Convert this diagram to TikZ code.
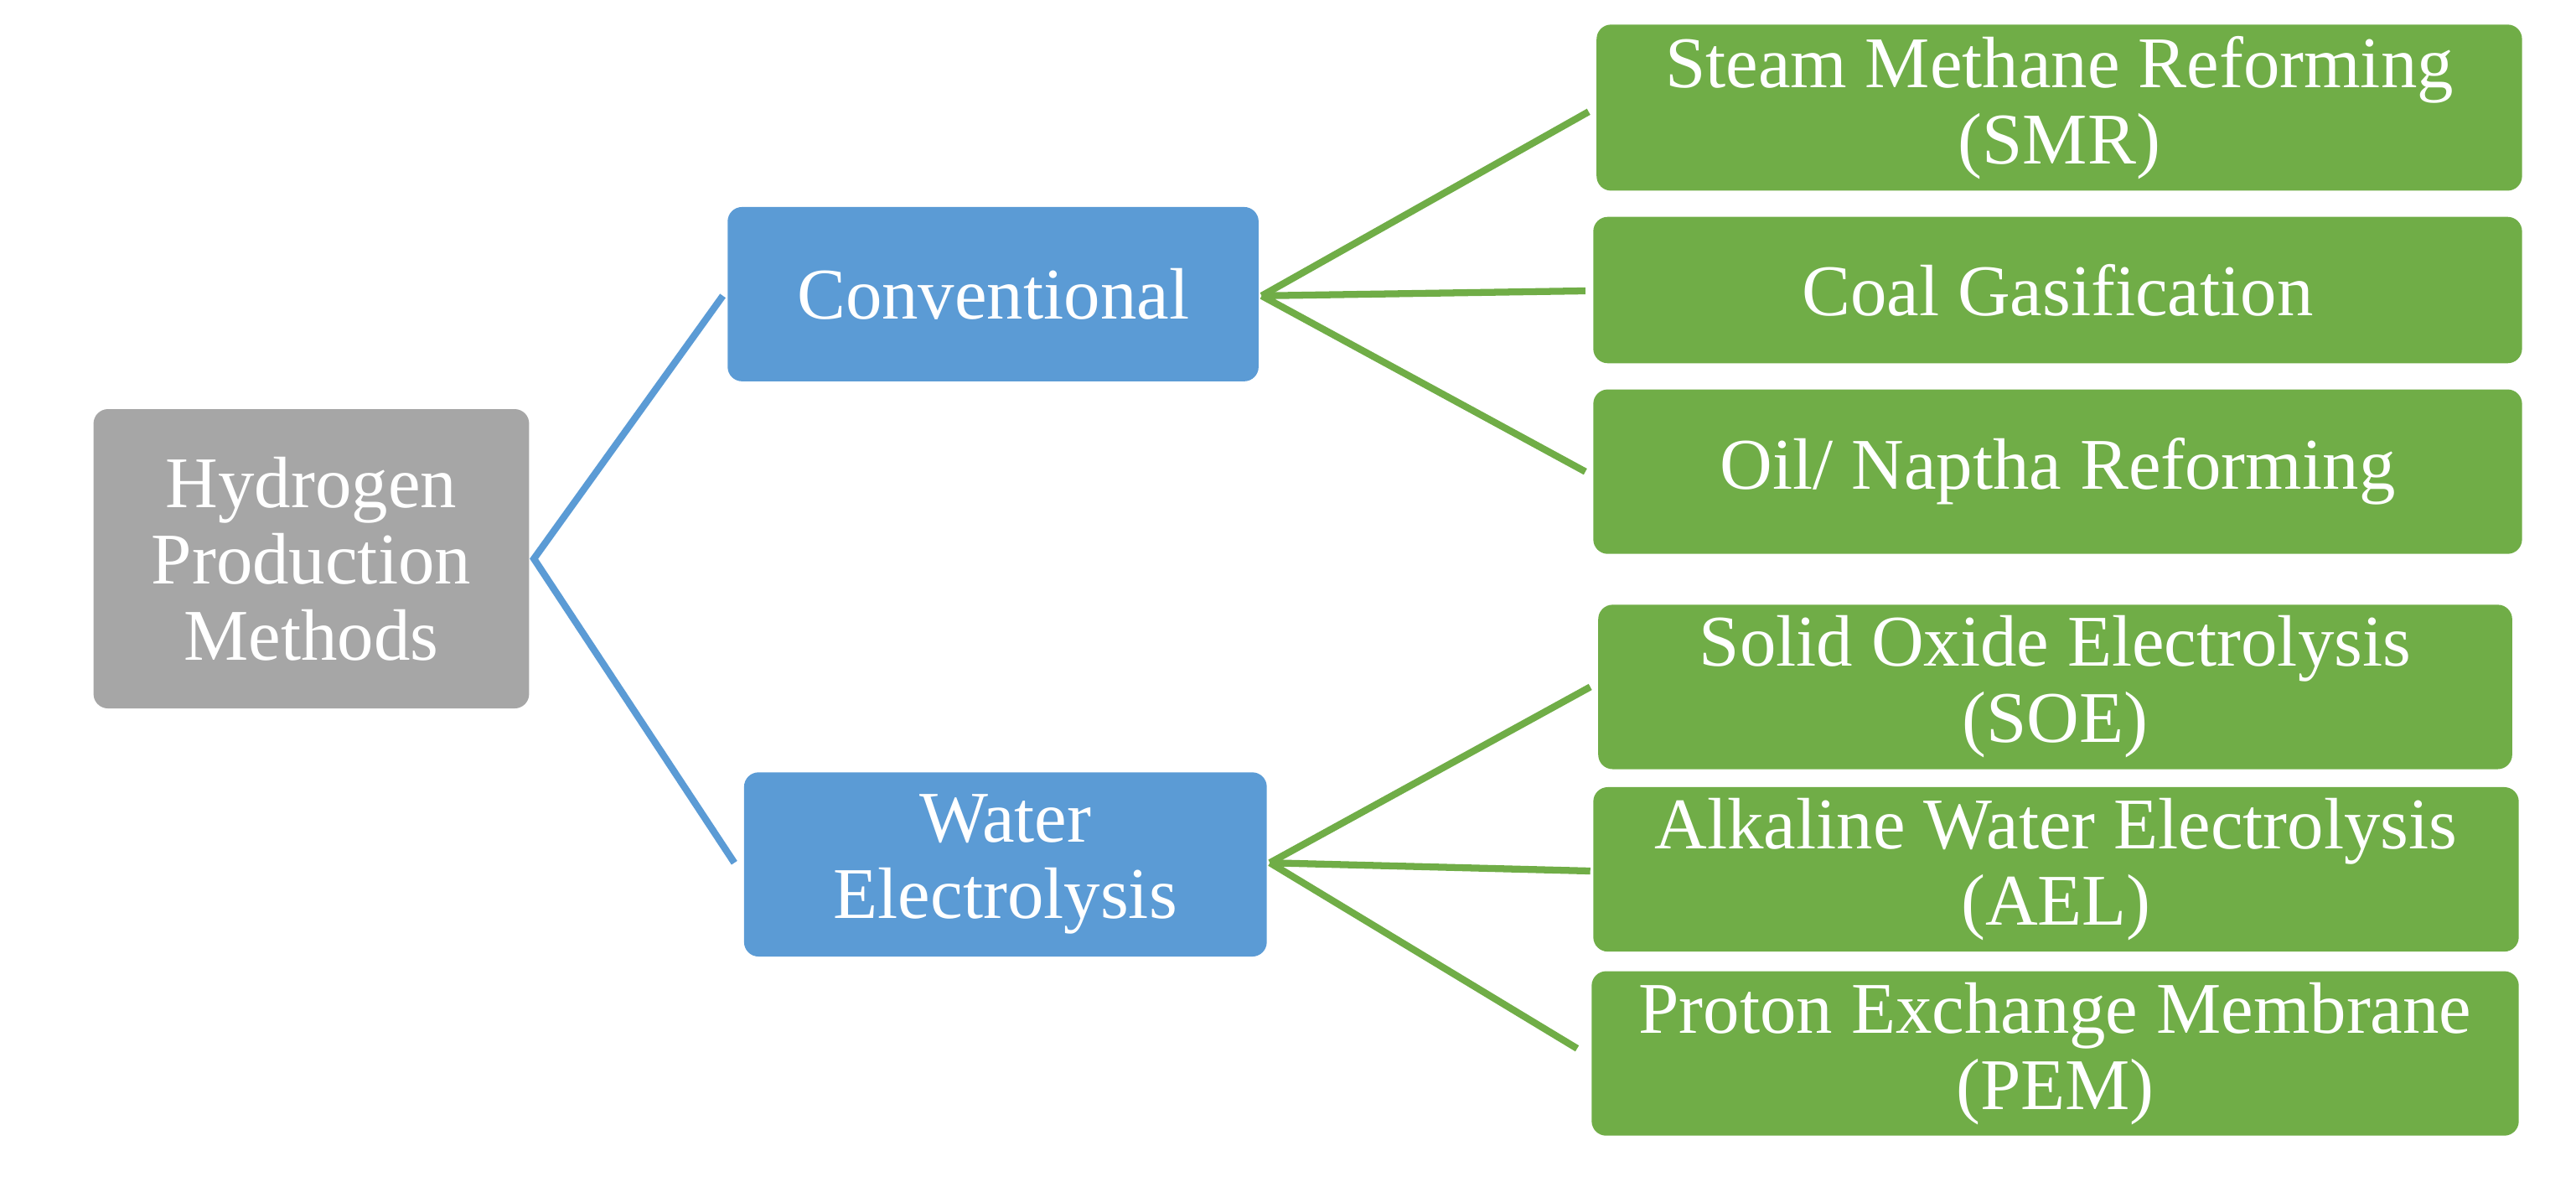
\documentclass[tikz,border=0pt]{standalone}
\usepackage{fontspec}
\setmainfont{Liberation Serif}
\begin{document}
\begin{tikzpicture}[x=0.01cm,y=-0.01cm,
 box/.style={rounded corners=2.5pt,draw=none,text=white,align=center,inner sep=0pt,font=\fontsize{12.6pt}{13.2pt}\selectfont},
 gray/.style={box,fill={rgb,255:red,166;green,166;blue,166}},
 blue/.style={box,fill={rgb,255:red,91;green,155;blue,213}},
 green/.style={box,fill={rgb,255:red,112;green,173;blue,71}},
 bl/.style={draw={rgb,255:red,91;green,155;blue,213},line width=1.2pt},
 gl/.style={draw={rgb,255:red,112;green,173;blue,71},line width=1.2pt}]
\useasboundingbox (0,0) rectangle (1568,719);
\node[gray,minimum width=2.65cm,minimum height=1.82cm] (h) at (189.5,340) {Hydrogen\\Production\\Methods};
\node[blue,minimum width=3.23cm,minimum height=1.06cm] (c) at (604.5,179) {Conventional};
\node[blue,minimum width=3.18cm,minimum height=1.12cm] (w) at (612,526) {Water\\Electrolysis};
\node[green,minimum width=5.63cm,minimum height=1.01cm] (smr) at (1253.5,65.5) {Steam Methane Reforming\\(SMR)};
\node[green,minimum width=5.65cm,minimum height=0.89cm] (coal) at (1252.5,176.5) {Coal Gasification};
\node[green,minimum width=5.65cm,minimum height=1.00cm] (oil) at (1252.5,287) {Oil/ Naptha Reforming};
\node[green,minimum width=5.56cm,minimum height=1.00cm] (soe) at (1251,418) {Solid Oxide Electrolysis\\(SOE)};
\node[green,minimum width=5.63cm,minimum height=1.00cm] (ael) at (1251.5,529) {Alkaline Water Electrolysis\\(AEL)};
\node[green,minimum width=5.64cm,minimum height=1.00cm] (pem) at (1251,641) {Proton Exchange Membrane\\(PEM)};
\coordinate (hr) at (325,340);
\coordinate (cl) at (440,180);
\coordinate (wl) at (447,525);
\draw[bl] (cl) -- (hr) -- (wl);
\coordinate (cr) at (768,180);
\coordinate (wr) at (773,525);
\draw[gl] (cr) -- (967,68);
\draw[gl] (cr) -- (965,177);
\draw[gl] (cr) -- (965,287);
\draw[gl] (wr) -- (968,418);
\draw[gl] (wr) -- (968,530);
\draw[gl] (wr) -- (960,638);
\end{tikzpicture}
\end{document}
